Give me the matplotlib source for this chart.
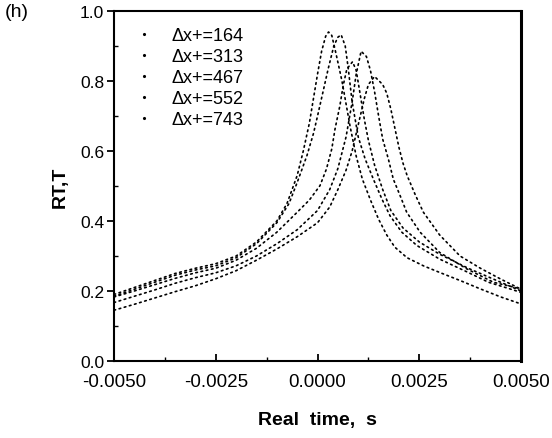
import matplotlib
matplotlib.use("Agg")
import matplotlib.pyplot as plt
from matplotlib.ticker import MultipleLocator, FormatStrFormatter

plt.rcParams['font.family'] = ['Liberation Sans', 'DejaVu Sans']

labels = ["\u0394x+=164", "\u0394x+=313", "\u0394x+=467", "\u0394x+=552", "\u0394x+=743"]

t_a = [-0.005, -0.0045, -0.004, -0.0035, -0.003, -0.0025, -0.002, -0.0015, -0.001, -0.00075,
       -0.0005, -0.00035, -0.0002, -0.0001, 0.0, 0.0001, 0.0002, 0.00027, 0.00035, 0.00045,
       0.0006, 0.0008, 0.00095, 0.0011, 0.0013, 0.0015, 0.0017, 0.0019, 0.0022, 0.0026,
       0.003, 0.0035, 0.004, 0.0045, 0.005]
y_a = [0.19, 0.21, 0.23, 0.25, 0.265, 0.278, 0.30, 0.34, 0.40, 0.45,
       0.53, 0.60, 0.68, 0.75, 0.82, 0.885, 0.928, 0.94, 0.93, 0.88,
       0.80, 0.67, 0.585, 0.52, 0.46, 0.405, 0.36, 0.325, 0.295, 0.272,
       0.253, 0.23, 0.206, 0.183, 0.163]

t_b = [-0.005, -0.0045, -0.004, -0.0035, -0.003, -0.0025, -0.002, -0.0015, -0.001, -0.0007,
       -0.0005, -0.00026, -0.0001, 0.0, 0.00014, 0.00026, 0.0004, 0.0005, 0.00058, 0.00068,
       0.00075, 0.00085, 0.001, 0.00117, 0.00137, 0.00158, 0.00178, 0.00207, 0.00244, 0.003,
       0.0037, 0.0042, 0.005]
y_b = [0.185, 0.205, 0.225, 0.245, 0.26, 0.272, 0.295, 0.335, 0.395, 0.45,
       0.51, 0.587, 0.65, 0.70, 0.772, 0.834, 0.90, 0.925, 0.932, 0.90,
       0.84, 0.74, 0.64, 0.577, 0.52, 0.463, 0.415, 0.368, 0.33, 0.291,
       0.253, 0.225, 0.196]

t_c = [-0.005, -0.0045, -0.004, -0.0035, -0.003, -0.0025, -0.002, -0.0015, -0.001, -0.0005,
       -0.0002, 0.00006, 0.00022, 0.00035, 0.00043, 0.00055, 0.00063, 0.00072, 0.00086, 0.00095,
       0.00105, 0.00115, 0.00125, 0.0014, 0.0016, 0.0018, 0.0021, 0.0025, 0.003, 0.0037,
       0.0043, 0.005]
y_c = [0.183, 0.20, 0.218, 0.236, 0.252, 0.265, 0.288, 0.322, 0.368, 0.425,
       0.46, 0.501, 0.549, 0.606, 0.663, 0.73, 0.787, 0.834, 0.855, 0.83,
       0.76, 0.69, 0.63, 0.56, 0.49, 0.43, 0.38, 0.34, 0.305, 0.265,
       0.235, 0.20]

t_d = [-0.005, -0.0045, -0.004, -0.0035, -0.003, -0.0025, -0.002, -0.0015, -0.001, -0.0005,
       0.0, 0.0003, 0.0005, 0.0007, 0.00085, 0.00095, 0.00107, 0.0012, 0.0013, 0.0014,
       0.0015, 0.0016, 0.00174, 0.00186, 0.00203, 0.00219, 0.00252, 0.003, 0.00367, 0.00432,
       0.005]
y_d = [0.167, 0.185, 0.203, 0.222, 0.238, 0.252, 0.272, 0.30, 0.335, 0.375,
       0.43, 0.49, 0.55, 0.64, 0.74, 0.82, 0.885, 0.87, 0.83, 0.77,
       0.70, 0.634, 0.577, 0.52, 0.472, 0.425, 0.368, 0.31, 0.263, 0.225,
       0.206]

t_e = [-0.005, -0.0045, -0.004, -0.0035, -0.003, -0.0025, -0.002, -0.0015, -0.001, -0.0005,
       0.0, 0.0003, 0.0005, 0.0007, 0.00085, 0.00095, 0.00105, 0.00115, 0.00125, 0.0014,
       0.0016, 0.0017, 0.0018, 0.0019, 0.002, 0.0021, 0.0022, 0.0024, 0.0026, 0.003,
       0.0035, 0.004, 0.0045, 0.005]
y_e = [0.145, 0.162, 0.18, 0.198, 0.215, 0.235, 0.258, 0.288, 0.32, 0.355,
       0.395, 0.44, 0.49, 0.545, 0.60, 0.65, 0.70, 0.75, 0.79, 0.813,
       0.79, 0.765, 0.72, 0.665, 0.61, 0.565, 0.53, 0.475, 0.425, 0.36,
       0.30, 0.265, 0.234, 0.205]

series = [(t_a, y_a), (t_b, y_b), (t_c, y_c), (t_d, y_d), (t_e, y_e)]

fig = plt.figure(figsize=(5.52, 4.39), dpi=100)
ax = fig.add_axes([0.2065, 0.1754, 0.7375, 0.7973])

for (t, y), lab in zip(series, labels):
    ax.plot(t, y, color='black', linestyle=(0, (1, 2.2)), linewidth=1.2,
            dash_capstyle='round')
    ax.plot([], [], color='black', linestyle='none', marker='.', markersize=2.5, label=lab)

ax.set_xlim(-0.005, 0.005)
ax.set_ylim(0.0, 1.0)
ax.xaxis.set_major_locator(MultipleLocator(0.0025))
ax.xaxis.set_minor_locator(MultipleLocator(0.00125))
ax.yaxis.set_major_locator(MultipleLocator(0.2))
ax.yaxis.set_minor_locator(MultipleLocator(0.1))
ax.xaxis.set_major_formatter(FormatStrFormatter('%.4f'))
ax.yaxis.set_major_formatter(FormatStrFormatter('%.1f'))

ax.tick_params(axis='x', which='major', direction='in', length=5, width=1.3, labelsize=13.5, pad=9)
ax.tick_params(axis='x', which='minor', direction='in', length=3, width=1.0)
ax.tick_params(axis='y', which='major', direction='out', length=5, width=1.3, labelsize=12.5, pad=2)
ax.tick_params(axis='y', which='minor', direction='in', length=3, width=1.0)
for s in ax.spines.values():
    s.set_linewidth(1.5)
ax.spines['right'].set_linewidth(2.2)

ax.set_xlabel('Real  time,  s', fontsize=14, fontweight='bold', labelpad=15)
ax.set_ylabel('RT,T', fontsize=14, fontweight='bold', labelpad=8)

leg = ax.legend(loc='upper left', frameon=False, fontsize=13, handlelength=1.0,
                handletextpad=1.0, labelspacing=0.22, borderaxespad=0.0,
                bbox_to_anchor=(0.035, 0.975))

fig.text(0.008, 0.99, '(h)', fontsize=14, va='top', ha='left')

fig.savefig('out.png', dpi=100)
